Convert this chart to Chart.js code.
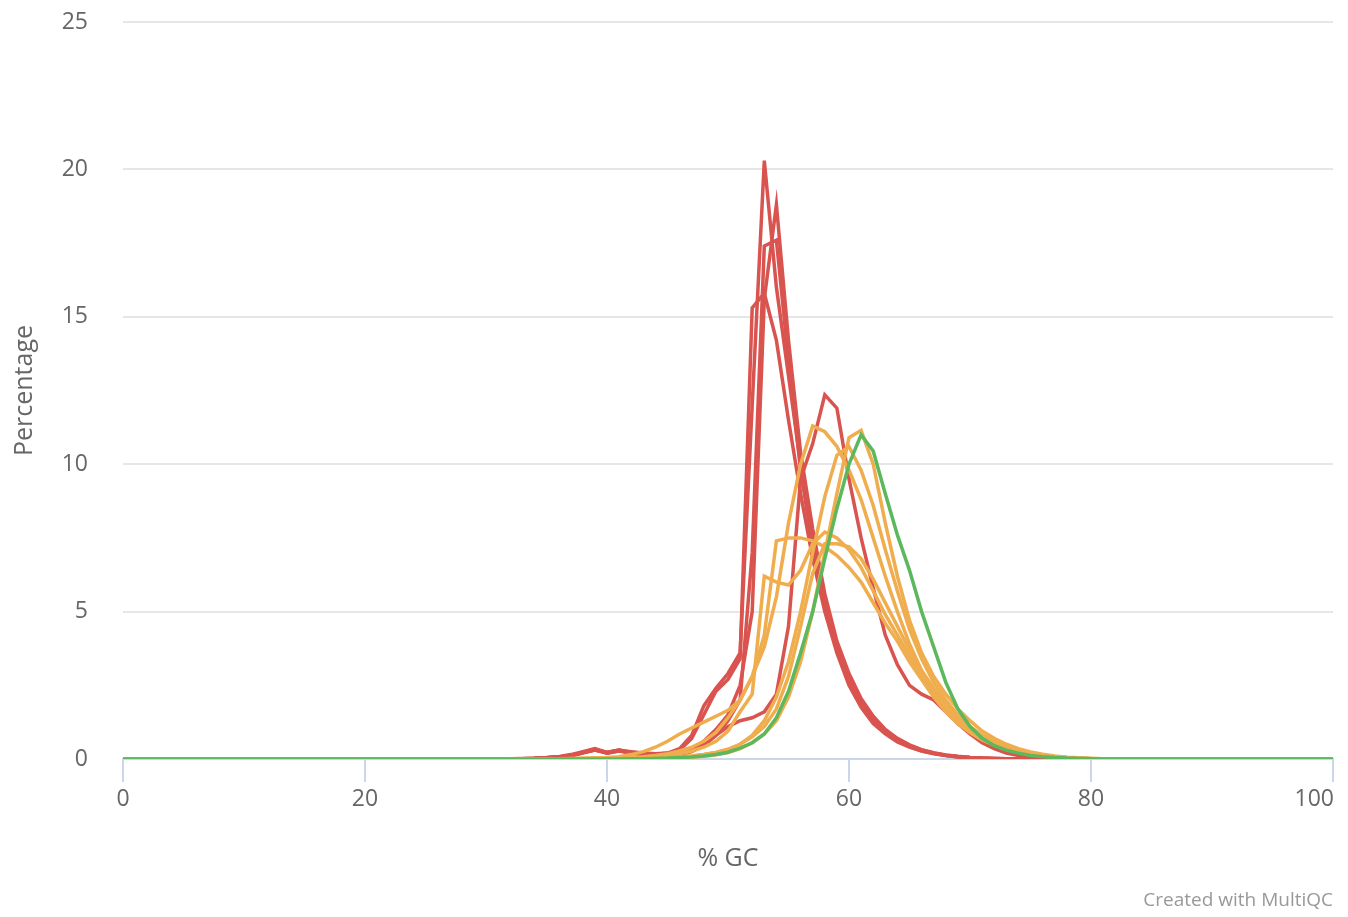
<!DOCTYPE html>
<html>
<head>
<meta charset="utf-8">
<script src="https://cdn.jsdelivr.net/npm/chart.js@4"></script>
<style>
html,body{margin:0;padding:0;background:#fff;}
#wrap{position:relative;width:1348px;height:917px;}
#credit{position:absolute;right:15px;top:886px;font-family:"Open Sans",sans-serif;font-size:19px;color:#999;}
</style>
</head>
<body>
<div id="wrap">
<canvas id="c"></canvas>
<div id="credit">Created with MultiQC</div>
</div>
<script>
// % GC categories (x values)
const gc = [0,1,2,3,4,5,6,7,8,9,10,11,12,13,14,15,16,17,18,19,20,21,22,23,24,25,26,27,28,29,30,31,32,33,34,35,36,37,38,39,40,41,42,43,44,45,46,47,48,49,50,51,52,53,54,55,56,57,58,59,60,61,62,63,64,65,66,67,68,69,70,71,72,73,74,75,76,77,78,79,80,81,82,83,84,85,86,87,88,89,90,91,92,93,94,95,96,97,98,99,100];
const xTicks = [0,20,40,60,80,100];
const yTicks = [0,5,10,15,20,25];

// green sample
const g1 = [0,0,0,0,0,0,0,0,0,0, 0,0,0,0,0,0,0,0,0,0, 0,0,0,0,0,0,0,0,0,0, 0,0,0,0,0,0,0,0,0,0,
  0,0,0.01,0.01,0.02,0.03,0.05,0.07,0.1,0.15,
  0.23,0.37,0.55,0.85,1.4,2.3,3.6,5.0,6.8,8.5,
  10.0,11.0,10.45,9.0,7.6,6.4,5.0,3.8,2.6,1.7,
  1.1,0.7,0.45,0.3,0.2,0.12,0.08,0.05,0.03,0.02,
  0.01,0,0,0,0,0,0,0,0,0, 0,0,0,0,0,0,0,0,0,0, 0];

// orange samples
const o1 = [0,0,0,0,0,0,0,0,0,0, 0,0,0,0,0,0,0,0,0,0, 0,0,0,0,0,0,0,0,0,0,
  0,0,0,0,0,0.01,0.01,0.02,0.03,0.04,
  0.05,0.08,0.15,0.25,0.4,0.6,0.85,1.05,1.25,1.45,
  1.65,2.0,2.8,3.8,5.5,8.0,10.0,11.3,11.1,10.6,
  9.8,8.8,7.5,6.2,5.0,3.9,3.0,2.3,1.75,1.3,
  0.95,0.7,0.5,0.36,0.25,0.17,0.11,0.07,0.04,0.02,
  0.01,0,0,0,0,0,0,0,0,0, 0,0,0,0,0,0,0,0,0,0, 0];
const o2 = [0,0,0,0,0,0,0,0,0,0, 0,0,0,0,0,0,0,0,0,0, 0,0,0,0,0,0,0,0,0,0, 0,0,0,0,0,0,0,0,0,0,
  0,0,0.01,0.01,0.02,0.03,0.04,0.06,0.09,0.14,
  0.22,0.35,0.55,0.85,1.3,2.1,3.3,5.0,7.0,9.0,
  10.9,11.15,10.0,8.0,6.2,4.7,3.6,2.8,2.2,1.7,
  1.3,0.95,0.7,0.5,0.35,0.24,0.16,0.1,0.06,0.04,
  0.02,0.01,0,0,0,0,0,0,0,0, 0,0,0,0,0,0,0,0,0,0, 0];
const o3 = [0,0,0,0,0,0,0,0,0,0, 0,0,0,0,0,0,0,0,0,0, 0,0,0,0,0,0,0,0,0,0, 0,0,0,0,0,0,0,0,0,0,
  0,0,0.01,0.02,0.03,0.05,0.07,0.1,0.15,0.22,
  0.32,0.5,0.8,1.3,2.1,3.3,5.0,7.0,8.9,10.3,
  10.6,9.8,8.6,7.1,5.7,4.4,3.4,2.6,2.0,1.5,
  1.1,0.8,0.58,0.42,0.3,0.2,0.13,0.08,0.05,0.03,
  0.02,0.01,0,0,0,0,0,0,0,0, 0,0,0,0,0,0,0,0,0,0, 0];
const o4 = [0,0,0,0,0,0,0,0,0,0, 0,0,0,0,0,0,0,0,0,0, 0,0,0,0,0,0,0,0,0,0, 0,0,0,0,0,0,0,0,0,0,
  0.02,0.03,0.05,0.08,0.12,0.18,0.27,0.4,0.6,0.9,
  1.4,2.0,2.8,4.2,7.4,7.5,7.5,7.4,7.2,6.9,
  6.5,6.0,5.3,4.6,4.0,3.3,2.7,2.1,1.6,1.2,
  0.9,0.65,0.47,0.33,0.23,0.15,0.1,0.06,0.04,0.02,
  0.01,0,0,0,0,0,0,0,0,0, 0,0,0,0,0,0,0,0,0,0, 0];
const o5 = [0,0,0,0,0,0,0,0,0,0, 0,0,0,0,0,0,0,0,0,0, 0,0,0,0,0,0,0,0,0,0, 0,0,0,0,0,0,0,0,0,0,
  0.01,0.02,0.03,0.05,0.08,0.12,0.18,0.27,0.4,0.6,
  0.95,1.6,2.2,6.2,6.0,5.9,6.4,7.3,7.7,7.5,
  7.1,6.5,5.7,4.9,4.2,3.5,2.8,2.2,1.7,1.3,
  0.95,0.7,0.5,0.35,0.24,0.16,0.1,0.06,0.04,0.02,
  0.01,0,0,0,0,0,0,0,0,0, 0,0,0,0,0,0,0,0,0,0, 0];
const o6 = [0,0,0,0,0,0,0,0,0,0, 0,0,0,0,0,0,0,0,0,0, 0,0,0,0,0,0,0,0,0,0, 0,0,0,0,0,0,0,0,0,0,
  0,0.01,0.01,0.02,0.03,0.05,0.07,0.1,0.15,0.22,
  0.33,0.5,0.75,1.1,1.7,2.8,4.5,6.3,7.3,7.3,
  7.2,6.8,6.1,5.3,4.5,3.7,3.0,2.4,1.9,1.45,
  1.1,0.8,0.58,0.41,0.28,0.19,0.12,0.08,0.05,0.03,
  0.02,0.01,0,0,0,0,0,0,0,0, 0,0,0,0,0,0,0,0,0,0, 0];

// red samples
const r1 = [0,0,0,0,0,0,0,0,0,0, 0,0,0,0,0,0,0,0,0,0, 0,0,0,0,0,0,0,0,0,0,
  0,0.01,0.01,0.02,0.03,0.05,0.08,0.15,0.25,0.35,
  0.22,0.3,0.2,0.15,0.15,0.2,0.35,0.8,1.8,2.4,
  2.9,3.6,12.0,20.3,16.0,13.0,10.0,7.5,5.3,3.8,
  2.7,1.9,1.35,0.95,0.65,0.45,0.3,0.2,0.13,0.08,
  0.05,0.03,0.02,0.01,0,0,0,0,0,0,
  0,0,0,0,0,0,0,0,0,0, 0,0,0,0,0,0,0,0,0,0, 0];
const r2 = [0,0,0,0,0,0,0,0,0,0, 0,0,0,0,0,0,0,0,0,0, 0,0,0,0,0,0,0,0,0,0,
  0,0,0.01,0.01,0.02,0.04,0.07,0.12,0.22,0.33,
  0.2,0.28,0.2,0.14,0.12,0.13,0.2,0.35,0.6,1.0,
  1.5,2.5,5.0,15.6,18.8,14.2,10.4,7.8,5.6,4.0,
  2.9,2.05,1.45,1.0,0.7,0.48,0.32,0.21,0.14,0.09,
  0.05,0.03,0.02,0.01,0,0,0,0,0,0,
  0,0,0,0,0,0,0,0,0,0, 0,0,0,0,0,0,0,0,0,0, 0];
const r3 = [0,0,0,0,0,0,0,0,0,0, 0,0,0,0,0,0,0,0,0,0, 0,0,0,0,0,0,0,0,0,0,
  0,0,0.01,0.01,0.02,0.04,0.07,0.12,0.22,0.3,
  0.22,0.3,0.22,0.15,0.13,0.15,0.3,0.7,1.5,2.3,
  2.7,3.4,15.3,15.8,14.2,11.5,9.0,6.8,5.0,3.6,
  2.5,1.75,1.2,0.85,0.58,0.4,0.27,0.18,0.12,0.07,
  0.04,0.02,0.01,0,0,0,0,0,0,0,
  0,0,0,0,0,0,0,0,0,0, 0,0,0,0,0,0,0,0,0,0, 0];
const r4 = [0,0,0,0,0,0,0,0,0,0, 0,0,0,0,0,0,0,0,0,0, 0,0,0,0,0,0,0,0,0,0,
  0,0,0,0.01,0.02,0.03,0.06,0.1,0.2,0.3,
  0.2,0.27,0.2,0.14,0.12,0.12,0.15,0.25,0.45,0.8,
  1.3,2.0,7.0,17.4,17.6,13.5,9.8,7.2,5.2,3.7,
  2.6,1.85,1.3,0.9,0.62,0.42,0.28,0.19,0.12,0.08,
  0.05,0.03,0.02,0.01,0,0,0,0,0,0,
  0,0,0,0,0,0,0,0,0,0, 0,0,0,0,0,0,0,0,0,0, 0];
const r5 = [0,0,0,0,0,0,0,0,0,0, 0,0,0,0,0,0,0,0,0,0, 0,0,0,0,0,0,0,0,0,0,
  0,0,0.01,0.01,0.02,0.04,0.07,0.12,0.22,0.33,
  0.22,0.3,0.25,0.2,0.18,0.2,0.25,0.35,0.55,0.8,
  1.1,1.3,1.4,1.6,2.2,4.5,9.5,10.7,12.35,11.9,
  9.5,7.5,5.8,4.2,3.2,2.5,2.2,2.0,1.6,1.2,
  0.85,0.55,0.35,0.2,0.12,0.08,0.05,0.03,0.02,0.01,
  0,0,0,0,0,0,0,0,0,0, 0,0,0,0,0,0,0,0,0,0, 0];

const GREEN = '#5cb85c', ORANGE = '#f0ad4e', RED = '#d9534f';
const seriesList = [
  {name:'g1', values:g1, color:GREEN},
  {name:'o1', values:o1, color:ORANGE},
  {name:'o2', values:o2, color:ORANGE},
  {name:'o3', values:o3, color:ORANGE},
  {name:'o4', values:o4, color:ORANGE},
  {name:'o5', values:o5, color:ORANGE},
  {name:'o6', values:o6, color:ORANGE},
  {name:'r1', values:r1, color:RED},
  {name:'r2', values:r2, color:RED},
  {name:'r3', values:r3, color:RED},
  {name:'r4', values:r4, color:RED},
  {name:'r5', values:r5, color:RED}
];

const datasets = seriesList.map(s => ({
  label: s.name,
  data: gc.map((x, i) => ({x: x, y: s.values[i]})),
  borderColor: s.color,
  backgroundColor: s.color,
  borderWidth: 3.5,
  pointRadius: 0,
  tension: 0,
  fill: false
}));

const FONT = '"Open Sans", "DejaVu Sans", sans-serif';

const lastLabelRight = {
  id: 'lastLabelRight',
  beforeDraw(chart) {
    const items = chart.scales.x.getLabelItems();
    if (items.length) {
      const last = items[items.length - 1];
      last.options.textAlign = 'right';
      last.options.translation[0] += 1;
    }
  }
};

new Chart(document.getElementById('c'), {
  type: 'line',
  data: { datasets },
  plugins: [lastLabelRight],
  options: {
    responsive: true,
    maintainAspectRatio: false,
    animation: false,
    devicePixelRatio: 1,
    layout: { padding: { top: 22, right: 15, left: 0, bottom: 0 } },
    plugins: { legend: { display: false }, tooltip: { enabled: false } },
    scales: {
      x: {
        type: 'linear',
        min: 0, max: 100,
        afterBuildTicks(s) { s.ticks = xTicks.map(v => ({value: v})); },
        afterFit(s) { s.height = 158; s.paddingLeft = 0; s.paddingRight = 0; },
        grid: { display: true, drawOnChartArea: false, drawTicks: true, tickLength: 23, tickColor: '#ccd6eb', color: '#ccd6eb', lineWidth: 2 },
        border: { display: true, color: '#ccd6eb', width: 2 },
        ticks: { color: '#666', font: { family: FONT, size: 23 }, padding: 4, maxRotation: 0, autoSkip: false },
        title: { display: true, text: '% GC', color: '#666', font: { family: FONT, size: 25 }, padding: { top: 0, bottom: 43 } }
      },
      y: {
        type: 'linear',
        min: 0, max: 25,
        afterBuildTicks(s) { s.ticks = yTicks.map(v => ({value: v})); },
        afterFit(s) { s.width = 123; s.paddingTop = 0; s.paddingBottom = 0; },
        grid: { color: '#e6e6e6', lineWidth: 2, drawTicks: false },
        border: { display: false },
        ticks: { color: '#666', font: { family: FONT, size: 23 }, padding: 35 },
        title: { display: true, text: 'Percentage', color: '#666', font: { family: FONT, size: 25 }, padding: { top: 10, bottom: 0 } }
      }
    }
  }
});
</script>
</body>
</html>
